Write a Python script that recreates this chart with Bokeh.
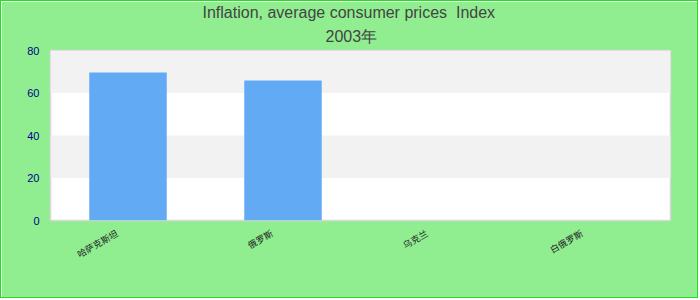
import math
from bokeh.plotting import figure
from bokeh.models import Range1d, Title, ColumnDataSource, LinearAxis, FixedTicker
from bokeh.embed import file_html
from bokeh.resources import INLINE

categories = ["哈萨克斯坦", "俄罗斯", "乌克兰", "白俄罗斯"]
values = [69.7, 65.9, 0, 0]
y_ticks = [0, 20, 40, 60, 80]
title_line1 = "Inflation, average consumer prices \u00a0Index"
title_line2 = "2003年"

idx = list(range(len(categories)))
source = ColumnDataSource(data=dict(x=idx, cat=categories, val=values))

p = figure(width=698, height=298, output_backend="svg", toolbar_location=None,
           x_range=Range1d(-0.5, len(categories) - 0.5),
           y_range=Range1d(0, 80), title=None,
           min_border_left=49, min_border_right=29, min_border_bottom=79, min_border_top=10)
p.styles = {"border": "1px solid #22dd22"}
p.background_fill_color = "white"
p.border_fill_color = "#90ee90"
p.outline_line_color = "#d8d8d8"
p.outline_line_width = 1.5

p.vbar(x="x", top="val", width=0.5, source=source, fill_color="#63aaf4", line_color=None)

p.xgrid.grid_line_color = None
p.ygrid.grid_line_color = None
p.ygrid.band_fill_color = "#f2f2f2"
p.ygrid.band_fill_alpha = 1.0

p.yaxis.ticker = y_ticks
p.yaxis.axis_line_color = None
p.yaxis.major_tick_line_color = None
p.yaxis.major_tick_out = 0
p.yaxis.major_tick_in = 0
p.yaxis.minor_tick_line_color = None
p.yaxis.major_label_text_color = "#00008b"
p.yaxis.major_label_text_font = "Liberation Sans"
p.yaxis.major_label_text_font_size = "11px"
p.yaxis.major_label_standoff = 11

# category labels on a helper range, shifted slightly left of each bar centre
p.xaxis.visible = False
label_shift = 0.071
p.extra_x_ranges = {"lab": Range1d(-0.5 + label_shift, len(categories) - 0.5 + label_shift)}
xax = LinearAxis(x_range_name="lab", ticker=FixedTicker(ticks=idx),
                 major_label_overrides={i: c for i, c in zip(idx, categories)})
xax.axis_line_color = None
xax.major_tick_line_color = None
xax.major_tick_out = 0
xax.major_tick_in = 0
xax.minor_tick_line_color = None
xax.major_label_orientation = math.pi / 6
xax.major_label_text_color = "#222222"
xax.major_label_text_font = "Noto Sans CJK SC"
xax.major_label_text_font_size = "9px"
xax.major_label_standoff = 12
p.add_layout(xax, "below")

t2 = Title(text=title_line2, align="left", offset=275, text_font="Liberation Sans",
           text_font_size="16px", text_font_style="normal", text_color="#444444", standoff=11)
t1 = Title(text=title_line1, align="left", offset=152, text_font="Liberation Sans",
           text_font_size="16px", text_font_style="normal", text_color="#444444", standoff=0)
p.add_layout(t2, "above")
p.add_layout(t1, "above")

open("out.html", "w").write(file_html(p, INLINE))
